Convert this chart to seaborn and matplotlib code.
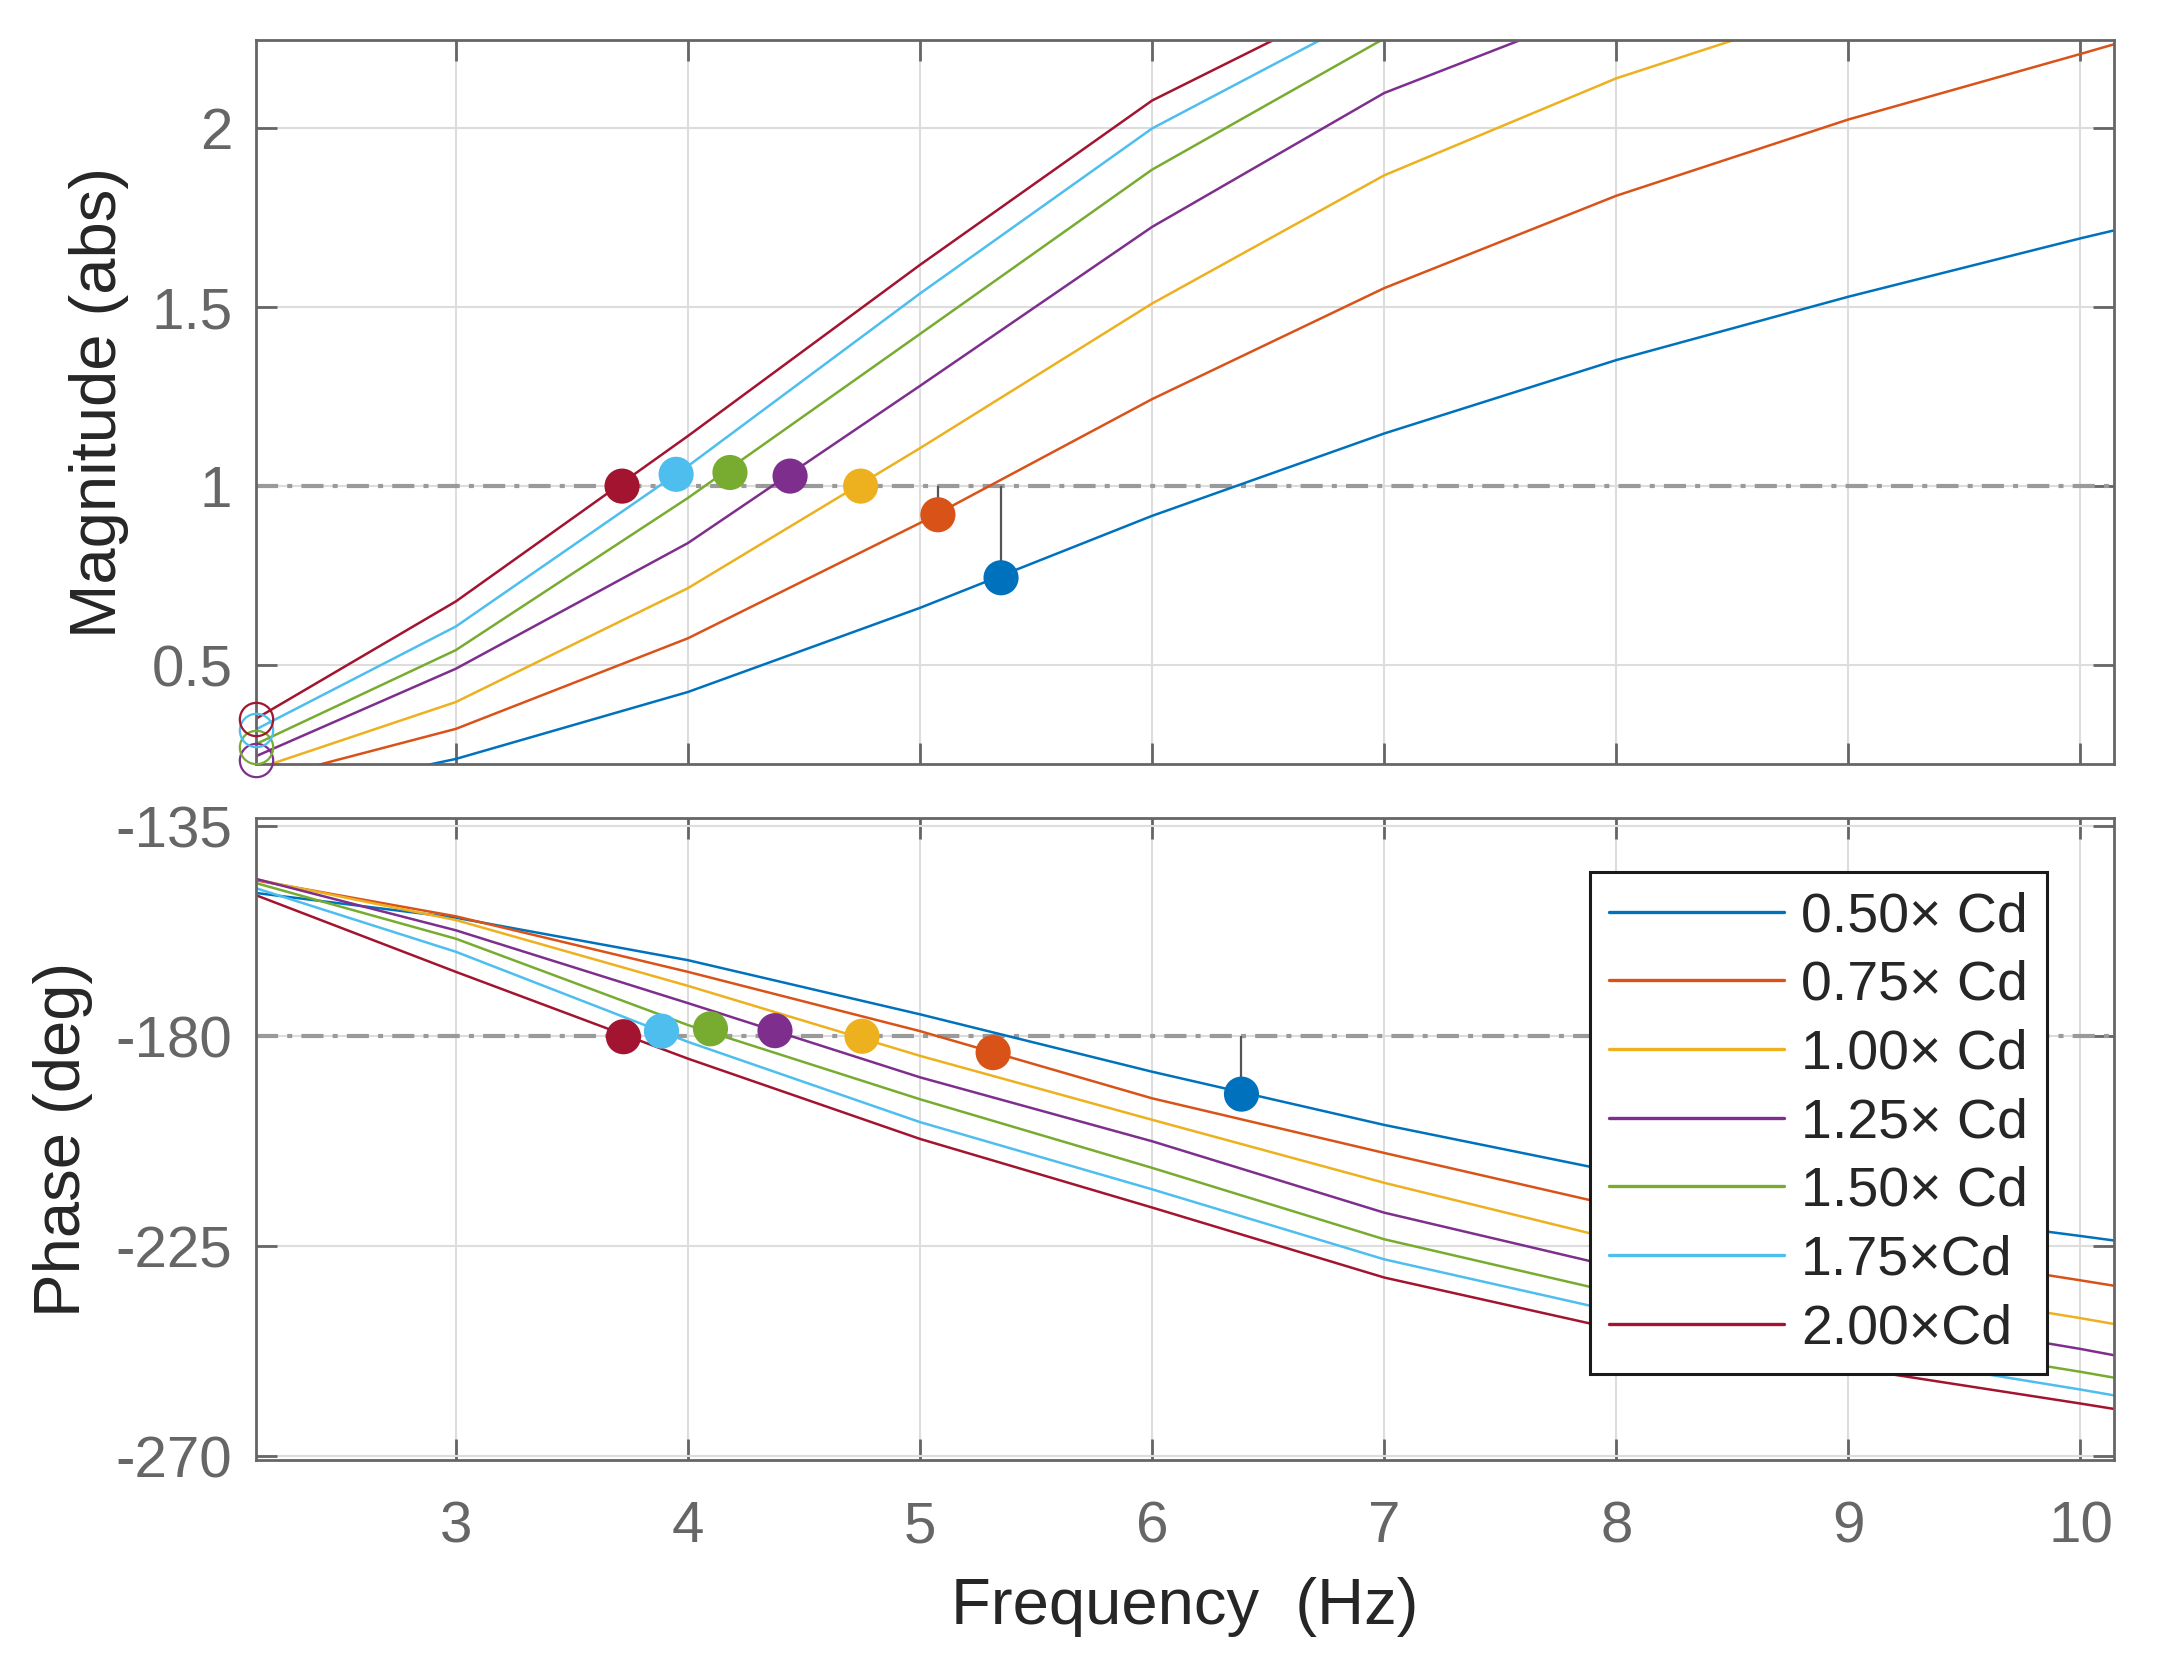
import numpy as np
import pandas as pd
import matplotlib
matplotlib.use('Agg')
import matplotlib.pyplot as plt
from matplotlib.lines import Line2D
import seaborn as sns

sns.set_style('white')
plt.rcParams['font.family'] = ['Liberation Sans', 'DejaVu Sans']

# frequency grid (Hz) of the sampled response
freq = [2.14, 3, 4, 5, 6, 7, 8, 9, 10, 10.15]

labels = ['0.50\u00d7 Cd', '0.75\u00d7 Cd', '1.00\u00d7 Cd', '1.25\u00d7 Cd',
          '1.50\u00d7 Cd', '1.75\u00d7Cd', '2.00\u00d7Cd']
colors = ['#0072BD', '#D95319', '#EDB120', '#7E2F8E', '#77AC30', '#4DBEEE', '#A2142F']

# magnitude (abs) (values above the top are only where a line leaves the plot)
mag_050 = [0.12, 0.238, 0.425, 0.66, 0.917, 1.147, 1.352, 1.529, 1.692, 1.715]
mag_075 = [0.176, 0.322, 0.575, 0.897, 1.243, 1.553, 1.811, 2.024, 2.207, 2.235]
mag_100 = [0.21, 0.397, 0.715, 1.106, 1.51, 1.868, 2.139, 2.35]
mag_125 = [0.246, 0.49, 0.841, 1.28, 1.724, 2.098, 2.35]
mag_150 = [0.28, 0.542, 0.967, 1.425, 1.884, 2.25]
mag_175 = [0.321, 0.608, 1.056, 1.538, 1.999, 2.34]
mag_200 = [0.351, 0.678, 1.14, 1.618, 2.077, 2.40]

# phase (deg)
ph_050 = [-149.3, -154.6, -163.7, -175.3, -187.6, -199.0, -209.1, -216.3, -222.8, -223.8]
ph_075 = [-146.6, -154.3, -166.2, -178.9, -193.3, -205.0, -216.4, -224.5, -232.3, -233.5]
ph_100 = [-146.4, -155.1, -169.2, -184.2, -197.9, -211.4, -223.6, -232.3, -240.4, -241.7]
ph_125 = [-146.3, -157.3, -172.9, -188.8, -202.5, -217.8, -229.5, -238.6, -247.0, -248.4]
ph_150 = [-147.2, -159.1, -177.6, -193.5, -208.2, -223.5, -235.0, -243.8, -251.9, -253.2]
ph_175 = [-148.3, -161.9, -181.2, -198.4, -212.8, -227.8, -239.0, -247.6, -255.7, -257.0]
ph_200 = [-149.8, -166.2, -184.8, -202.0, -216.7, -231.7, -242.8, -251.0, -258.7, -259.9]

# phase crossover points (top panel)
pc_freq = [5.349, 5.077, 4.744, 4.44, 4.181, 3.949, 3.716]
pc_mag = [0.744, 0.92, 1.0, 1.028, 1.038, 1.033, 1.0]
# gain crossover points (bottom panel)
gc_freq = [6.385, 5.315, 4.75, 4.375, 4.097, 3.886, 3.722]
gc_phase = [-192.4, -183.5, -180.0, -178.8, -178.4, -178.9, -180.1]

# open circles at the first sample (top panel)
start_idx = [3, 4, 5, 6]
start_mag = [0.235, 0.272, 0.318, 0.349]

mags = [mag_050, mag_075, mag_100, mag_125, mag_150, mag_175, mag_200]
phases = [ph_050, ph_075, ph_100, ph_125, ph_150, ph_175, ph_200]

rows = []
for lab, m, p in zip(labels, mags, phases):
    for i, f in enumerate(freq):
        rows.append({'f': f, 'case': lab,
                     'mag': m[i] if i < len(m) else np.nan, 'phase': p[i]})
df = pd.DataFrame(rows)
pts = pd.DataFrame({'case': labels, 'pcf': pc_freq, 'pcm': pc_mag,
                    'gcf': gc_freq, 'gcp': gc_phase})
pal = dict(zip(labels, colors))

axis_gray = '#666666'
fig = plt.figure(figsize=(21.59, 16.68), dpi=100)
ax1 = fig.add_axes([0.1186, 0.5420, 0.8606, 0.4338])
ax2 = fig.add_axes([0.1186, 0.1247, 0.8606, 0.3847])

dashdot = (0, (5.3, 2.2, 1.2, 2.2))

# magnitude
ax1.axhline(1, color='#9a9a9a', lw=3, ls=dashdot, zorder=1.5)
sns.lineplot(data=df.dropna(subset=['mag']), x='f', y='mag', hue='case', palette=pal,
             estimator=None, sort=False, lw=1.8, legend=False, ax=ax1, zorder=2)
ax1.vlines(pc_freq, pc_mag, 1, color='#555555', lw=1.6, zorder=2.5)
sns.scatterplot(data=pts, x='pcf', y='pcm', hue='case', palette=pal, s=640,
                linewidth=0, legend=False, ax=ax1, zorder=3)
for k, v in zip(start_idx, start_mag):
    ax1.plot(freq[0], v, 'o', mfc='none', mec=colors[k], ms=24, mew=1.6,
             clip_on=False, zorder=3)

# phase
ax2.axhline(-180, color='#9a9a9a', lw=3, ls=dashdot, zorder=1.5)
sns.lineplot(data=df, x='f', y='phase', hue='case', palette=pal,
             estimator=None, sort=False, lw=1.8, legend=False, ax=ax2, zorder=2)
ax2.vlines(gc_freq, gc_phase, -180, color='#555555', lw=1.6, zorder=2.5)
sns.scatterplot(data=pts, x='gcf', y='gcp', hue='case', palette=pal, s=640,
                linewidth=0, legend=False, ax=ax2, zorder=3)

for ax in (ax1, ax2):
    ax.set_xlim(2.139, 10.145)
    ax.set_xticks([3, 4, 5, 6, 7, 8, 9, 10])
    ax.grid(True, color='#dddddd', lw=1.5)
    ax.set_axisbelow(True)
    for sp in ax.spines.values():
        sp.set_color(axis_gray)
        sp.set_linewidth(2.0)
        sp.set_visible(True)
    ax.tick_params(direction='in', length=15, width=2.0, color=axis_gray,
                   labelcolor=axis_gray, labelsize=42, top=True, right=True,
                   bottom=True, left=True)
    ax.tick_params(axis='y', pad=17)
    ax.tick_params(axis='x', pad=29)

ax1.set_ylim(0.224, 2.245)
ax1.set_yticks([0.5, 1, 1.5, 2])
ax1.set_yticklabels(['0.5', '1', '1.5', '2'])
ax1.tick_params(labelbottom=False)
ax1.set_xlabel('')
ax1.set_ylabel('Magnitude (abs)', fontsize=47, labelpad=16)

ax2.set_ylim(-270.8, -133.3)
ax2.set_yticks([-270, -225, -180, -135])
ax2.set_yticklabels(['-270', '-225', '-180', '-135'])
ax2.set_xticklabels(['3', '4', '5', '6', '7', '8', '9', '10'])
ax2.set_ylabel('Phase (deg)', fontsize=47, labelpad=16)
ax2.set_xlabel('Frequency  (Hz)', fontsize=47, labelpad=16)

handles = [Line2D([0], [0], color=c, lw=2.4) for c in colors]
leg = ax2.legend(handles, labels, loc='upper right', bbox_to_anchor=(0.964, 0.917),
                 borderaxespad=0, fontsize=40, frameon=True, fancybox=False,
                 framealpha=1, facecolor='white', edgecolor='#1a1a1a',
                 handlelength=3.15, handletextpad=0.3,
                 labelspacing=0.3, borderpad=0.35)
leg.get_frame().set_linewidth(2.2)
leg.set_zorder(5)

fig.savefig('out.png', dpi=100)
